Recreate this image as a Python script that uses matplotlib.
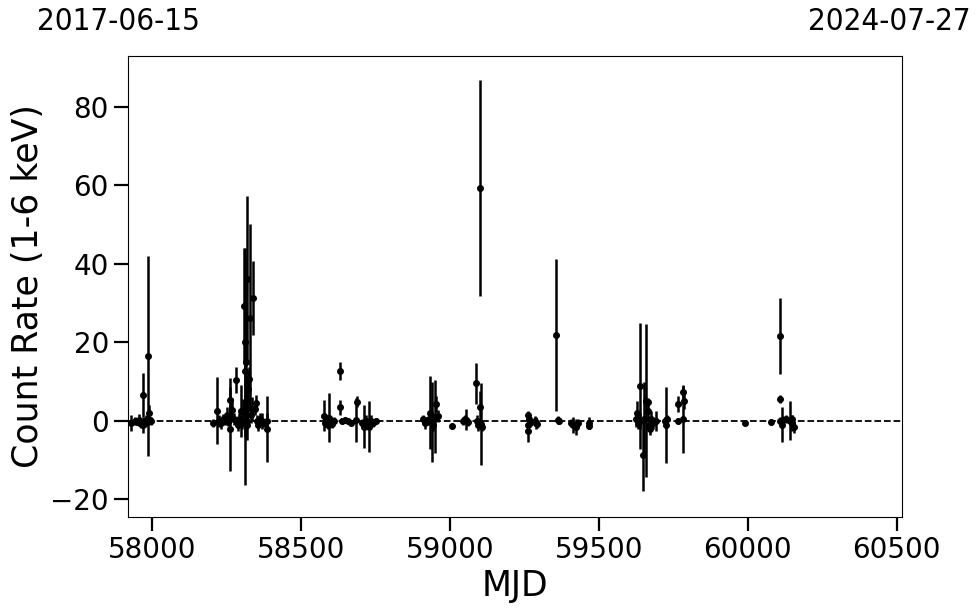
import matplotlib
matplotlib.use("Agg")
import matplotlib.pyplot as plt

mjd = [57930, 57942, 57950, 57957, 57962, 57969, 57972, 57976, 57980, 57986, 57988, 57990, 57993, 57997,
       58206, 58218, 58224, 58231, 58238, 58245, 58251, 58256, 58262, 58262, 58270, 58276, 58281, 58285,
       58288, 58294, 58300, 58304, 58307, 58311, 58314, 58316, 58318, 58319, 58321, 58323, 58326, 58329,
       58332, 58336, 58339, 58345, 58348, 58352, 58358, 58364, 58370, 58376, 58385, 58387,
       58313, 58317, 58320,
       58579, 58582, 58586, 58590, 58594, 58598, 58602, 58606, 58610, 58630, 58630, 58640, 58650, 58660,
       58668, 58686, 58688, 58705, 58712, 58718, 58724, 58730, 58736, 58742, 58753,
       58910, 58918, 58922, 58934, 58930, 58939, 58944, 58950, 58954, 58962, 59008,
       59045, 59052, 59056, 59062, 59088, 59092, 59096, 59101, 59103, 59105, 59108,
       59262, 59263, 59264, 59266, 59268, 59285, 59290, 59293,
       59358, 59362, 59368,
       59408, 59415, 59425, 59432, 59467, 59468,
       59626, 59630, 59632, 59637, 59640, 59650, 59651, 59659, 59664, 59666, 59668, 59672, 59676, 59681,
       59692, 59722, 59726, 59729, 59765, 59766, 59782, 59784, 59786,
       59991, 60078,
       60107, 60108, 60109, 60114, 60120, 60130, 60141, 60148, 60150, 60155]
rate = [-0.5, 0.0, -0.3, 0.2, -0.8, -1.0, 6.6, -0.5, 0.3, 0.0, 16.5, 2.1, 0.3, 0.0,
        -0.5, 2.6, 0.0, -0.5, 0.5, 0.0, 1.5, -0.3, 5.3, -2.1, 2.8, 0.5, 10.4, 0.0,
        -1.0, 0.5, 2.5, -0.5, 2.5, 29.3, 12.6, 3.0, 36.1, 0.0, -1.0, 8.0, 10.6, 26.1,
        1.5, 3.0, 31.2, 3.0, 4.5, 0.0, -1.0, 0.5, 0.0, -0.5, 0.0, -2.1,
        20.0, 15.0, 5.0,
        1.3, -0.5, 0.0, -1.0, 0.8, -0.5, 0.0, -0.8, 0.0, 12.6, 3.4, 0.0, 0.2, 0.0,
        -0.5, 0.2, 4.9, -0.5, -1.5, 0.0, -1.0, -1.5, 0.0, -0.5, 0.0,
        0.5, -0.5, 0.0, 2.0, 0.5, -0.3, -1.0, 1.0, 4.3, 1.3, -1.3,
        0.0, 0.5, 0.3, -0.3, 9.6, 0.0, -1.0, 59.2, 3.6, -0.8, -1.5,
        1.5, -1.0, -2.7, 0.5, -0.5, 0.0, -0.5, -0.8,
        21.9, 0.3, 0.0,
        -0.5, -1.0, -1.5, -0.5, -0.5, -1.2,
        0.5, 2.0, -0.5, 8.9, 0.0, -8.7, 0.5, 5.1, 4.9, 2.5, -1.0, -2.0, 0.5, -0.5,
        0.0, 0.0, -1.0, 0.5, 4.3, 0.0, 0.4, 7.3, 5.1,
        -0.6, -0.3,
        21.6, 5.5, 0.0, -1.0, 0.3, 0.5, 0.0, 0.5, -0.5, -1.5]
err = [2.0, 1.0, 0.8, 1.5, 1.0, 2.0, 5.5, 1.0, 1.2, 1.0, 25.5, 2.0, 0.8, 1.0,
       1.0, 8.5, 1.5, 1.5, 1.2, 1.0, 2.0, 1.0, 5.5, 10.8, 3.0, 1.5, 3.4, 1.0,
       1.5, 1.5, 6.5, 1.5, 3.0, 14.7, 29.0, 4.0, 21.2, 2.0, 4.0, 5.0, 3.0, 24.0,
       2.0, 3.0, 9.4, 1.5, 2.0, 1.5, 1.5, 1.5, 2.0, 1.0, 2.0, 8.4,
       24.0, 18.0, 6.0,
       4.0, 1.0, 1.5, 1.0, 6.3, 1.0, 1.0, 1.0, 1.0, 2.3, 2.0, 0.8, 0.8, 0.8,
       0.8, 5.5, 1.5, 1.0, 5.5, 1.5, 1.0, 6.5, 1.5, 1.0, 0.8,
       1.0, 1.5, 1.0, 9.3, 1.5, 10.3, 1.5, 9.3, 2.0, 1.5, 0.8,
       1.0, 1.0, 2.7, 1.0, 5.2, 1.5, 1.5, 27.5, 4.0, 10.4, 1.0,
       1.0, 1.5, 2.6, 1.0, 1.0, 1.2, 1.5, 1.0,
       19.4, 1.0, 0.8,
       1.0, 2.0, 2.0, 1.0, 1.5, 1.0,
       2.0, 3.0, 1.5, 16.0, 2.0, 9.3, 9.3, 19.5, 1.0, 2.0, 1.5, 1.5, 2.0, 1.5,
       2.5, 1.0, 9.7, 1.0, 2.0, 0.8, 8.6, 1.5, 2.0,
       0.8, 0.8,
       9.6, 1.0, 1.0, 4.5, 1.0, 1.0, 5.0, 1.0, 2.0, 1.5]

xlim = (57919, 60518)
ylim = (-24.5, 93.0)
date_left = "2017-06-15"
date_right = "2024-07-27"

fig = plt.figure(figsize=(9.8, 6.13), dpi=100)
ax = fig.add_axes([0.1303, 0.1566, 0.7901, 0.7525])

ax.axhline(0, color="black", linestyle="--", linewidth=1.3, zorder=1)
ax.errorbar(mjd, rate, yerr=err, fmt="o", color="black", markersize=4,
            elinewidth=1.8, capsize=0, zorder=3)

ax.set_xlim(*xlim)
ax.set_ylim(*ylim)
ax.set_xticks([58000, 58500, 59000, 59500, 60000, 60500])
ax.set_yticks([-20, 0, 20, 40, 60, 80])
ax.tick_params(axis="both", labelsize=20, length=10, width=1.6)
ax.set_xlabel("MJD", fontsize=25)
ax.set_ylabel("Count Rate (1-6 keV)", fontsize=25)

fig.text(118 / 980, 1 - 22 / 613, date_left, ha="center", va="center",
         fontsize=22.5, fontstretch="condensed", family="DejaVu Sans")
fig.text(889 / 980, 1 - 22 / 613, date_right, ha="center", va="center",
         fontsize=22.5, fontstretch="condensed", family="DejaVu Sans")

fig.savefig("out.png", dpi=100)
